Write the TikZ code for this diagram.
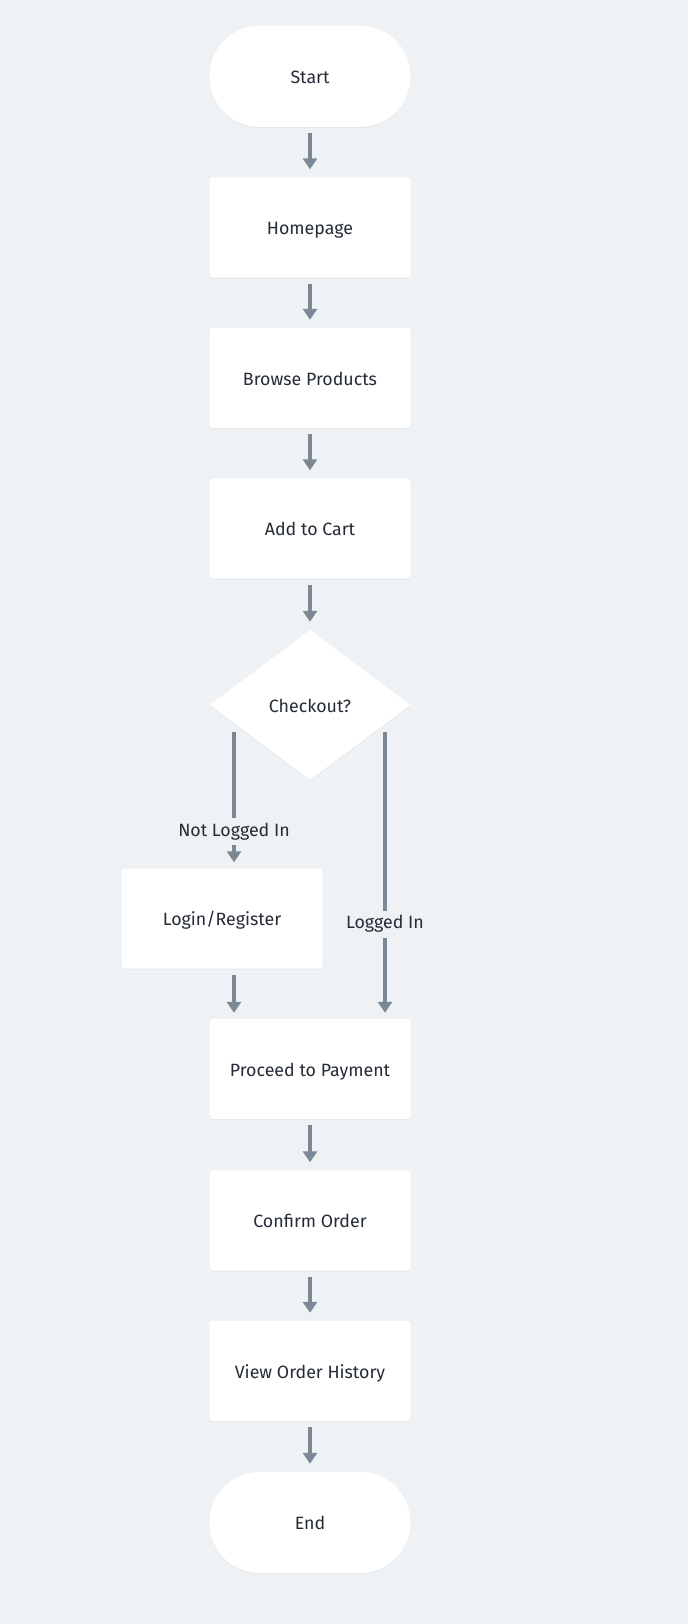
\documentclass[tikz,border=0pt]{standalone}
\usepackage{fontspec}
\setmainfont{Fira Sans}
\usetikzlibrary{shapes.geometric,arrows.meta,shadows}
\definecolor{bg}{HTML}{EFF2F5}
\definecolor{arr}{HTML}{7B8896}
\definecolor{txt}{HTML}{252B36}
\tikzset{
  x=1pt,y=-1pt,
  every node/.style={font=\fontsize{17.8}{20}\selectfont, text=txt},
  sh/.style={drop shadow={shadow xshift=0pt,shadow yshift=-1pt,opacity=0.04,fill=black}},
  ctr/.style={text height=15pt, text depth=1pt},
  procbox/.style={draw=none, fill=white, rounded corners=3pt, minimum width=201pt, minimum height=100pt, inner sep=0pt, sh, ctr},
  pill/.style={draw=none, fill=white, rounded corners=50pt, minimum width=201pt, minimum height=101pt, inner sep=0pt, sh, ctr},
  decision/.style={diamond, draw=none, fill=white, minimum width=201pt, minimum height=150pt, aspect=1.34, inner sep=0pt, sh, ctr},
  conn/.style={draw=arr, line width=3.3pt, -{Triangle[width=14pt,length=11pt]}, shorten <=6pt, shorten >=8pt},
  lbl/.style={fill=bg, inner xsep=2pt, inner ysep=5pt}
}
\begin{document}
\begin{tikzpicture}
\fill[bg] (0,0) rectangle (688,1624);
\useasboundingbox (0,0) rectangle (688,1624);
\node[pill] (start) at (310,76.5) {Start};
\node[procbox] (home) at (310,227.5) {Homepage};
\node[procbox] (browse) at (310,378) {Browse Products};
\node[procbox] (cart) at (310,528.5) {Add to Cart};
\node[decision] (chk) at (310,705) {Checkout?};
\node[procbox] (login) at (222,918.5) {Login/Register};
\node[procbox] (pay) at (310,1069) {Proceed to Payment};
\node[procbox] (conf) at (310,1220.5) {Confirm Order};
\node[procbox] (hist) at (310,1371) {View Order History};
\node[pill] (end) at (310,1522.5) {End};

\draw[conn] (start) -- (home);
\draw[conn] (home) -- (browse);
\draw[conn] (browse) -- (cart);
\draw[conn] (cart) -- (chk);
\coordinate (lb) at (234,732);
\coordinate (rb) at (385,732);
\draw[conn, shorten <=0pt, shorten >=6pt] (lb) -- node[lbl, pos=0.73] {Not Logged In} (lb |- login.north);
\draw[conn, shorten <=0pt, shorten >=6pt] (rb) -- node[lbl, pos=0.67] {Logged In} (rb |- pay.north);
\draw[conn, shorten >=6pt] (login.south -| lb) -- (pay.north -| lb);
\draw[conn] (pay) -- (conf);
\draw[conn] (conf) -- (hist);
\draw[conn] (hist) -- (end);
\end{tikzpicture}
\end{document}
